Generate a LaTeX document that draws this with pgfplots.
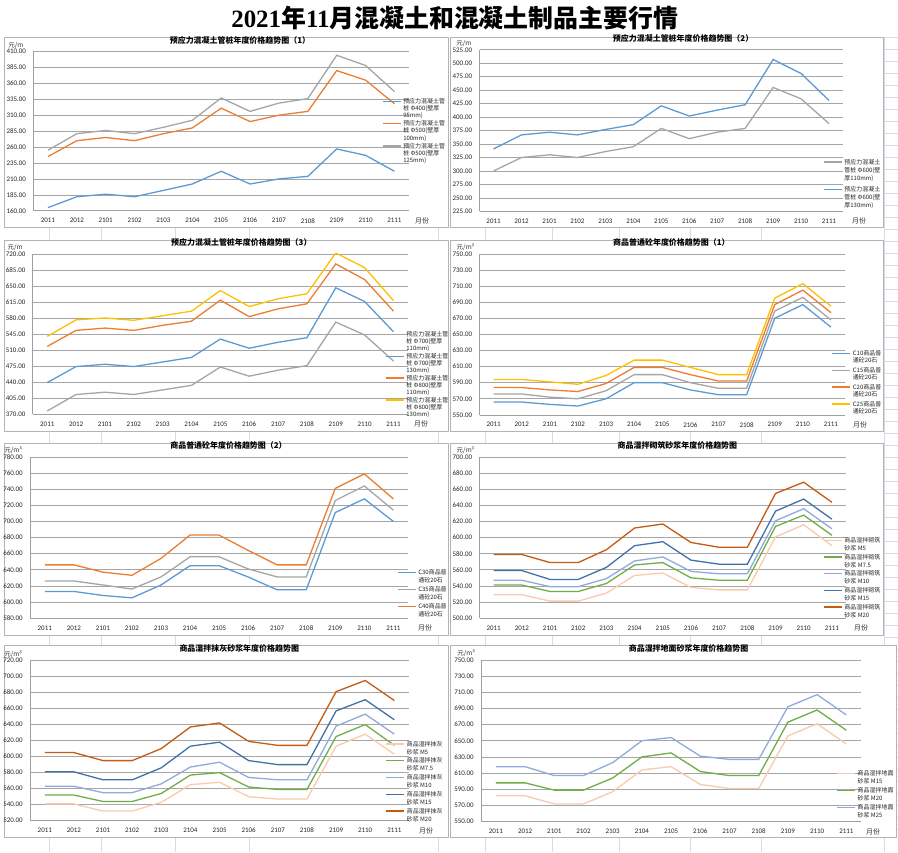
\documentclass[border=0pt]{standalone}
\usepackage{pgfplots}
\pgfplotsset{compat=1.18}
\usepackage{fontspec}
\setmainfont{Carlito}
\newfontfamily\cjk{Noto Sans CJK SC}
\newfontfamily\tnr{Liberation Serif}
\definecolor{cblue}{HTML}{5B9BD5}
\definecolor{corange}{HTML}{ED7D31}
\definecolor{cgray}{HTML}{A5A5A5}
\definecolor{cyellow}{HTML}{FFC000}
\definecolor{cpink}{HTML}{F8CBAD}
\definecolor{cgreen}{HTML}{70AD47}
\definecolor{clav}{HTML}{8FAADC}
\definecolor{cdblue}{HTML}{4271A8}
\definecolor{cbrown}{HTML}{C55A11}
\definecolor{panelgray}{HTML}{B4B4B4}
\definecolor{sheetgrid}{HTML}{D6DCE5}
\newcommand{\lgd}[1]{\begin{tabular}[b]{@{}l@{}}#1\end{tabular}}
\newcommand{\deco}[3]{%
  \node[anchor=south east, inner sep=0pt, xshift=#2, yshift=3pt, font=\cjk\fontsize{6.5}{7}\selectfont, text=black!80] at (rel axis cs:0,1) {#1};
  \node[anchor=base west, inner sep=0pt, xshift=#3, yshift=-12.5pt, font=\cjk\fontsize{7}{8}\selectfont, text=black!80] at (rel axis cs:1,0) {月份};
}
\pgfplotsset{
  panel/.style={
    scale only axis, clip mode=individual,
    xmin=-0.5, xmax=12.5,
    xtick={0,...,12},
    xticklabels={2011,2012,2101,2102,2103,2104,2105,2106,2107,2108,2109,2110,2111},
    axis x line*=bottom, axis y line*=left,
    axis line style={draw=gray!75, line width=0.7pt, -},
    major tick length=0pt,
    ymajorgrids, grid style={draw=gray!70, line width=0.6pt},
    tick label style={font=\fontsize{7}{8}\selectfont, text=black!85},
    xticklabel style={yshift=-4pt},
    yticklabel style={xshift=-4pt, /pgf/number format/.cd, fixed, fixed zerofill, precision=2},
    /pgf/number format/assume math mode=true,
    title style={font=\cjk\bfseries\fontsize{8}{9}\selectfont, anchor=base, inner sep=0pt, yshift=2.5pt},
    legend style={draw=none, fill=none, anchor=north west, inner sep=0pt, column sep=0pt,
      cells={anchor=base west, inner xsep=2pt, inner ysep=0pt}, text=black!85},
    every axis plot/.append style={line width=1.3pt, mark=none},
  },
  lfont/.style={legend style={font=\cjk\fontsize{6}{#1}\selectfont}},
  limg/.style={legend image code/.code={\draw[##1, line width=1.3pt] (0pt,#1) -- (18pt,#1);}},
}
\begin{document}
\begin{tikzpicture}
\fill[white] (0pt,0pt) rectangle (898pt,856pt);
% spreadsheet background grid
\begin{scope}[draw=sheetgrid, line width=0.5pt]
  \foreach \xx in {45.7,98.3,172,246.7,436.7,483.3,551,618.7,689.7,761.3,884.5}
    \draw (\xx pt,0pt) -- (\xx pt,818pt);
  \foreach \k in {0,...,66}{
    \pgfmathsetmacro\yy{818.7-12.05*\k}
    \draw (884pt,\yy pt) -- (898pt,\yy pt);}
\end{scope}
% panels
\begin{scope}[draw=panelgray, fill=white, line width=0.8pt]
  \filldraw (0.5pt,627.7pt) rectangle (446.7pt,818.5pt);
  \filldraw (448.3pt,627.7pt) rectangle (884pt,818.5pt);
  \filldraw (0.5pt,423pt) rectangle (446.7pt,614.3pt);
  \filldraw (448.3pt,423pt) rectangle (884pt,614.3pt);
  \filldraw (0.5pt,218.3pt) rectangle (446.7pt,411pt);
  \filldraw (448.3pt,218.3pt) rectangle (884pt,411pt);
  \filldraw (0.5pt,15pt) rectangle (446.7pt,208pt);
  \filldraw (448.3pt,15pt) rectangle (896.5pt,208pt);
\end{scope}
\node[font=\cjk\bfseries\fontsize{25}{28}\selectfont, inner sep=0pt] at (453pt,838pt) {{\tnr\bfseries 2021}年{\tnr\bfseries 11}月混凝土和混凝土制品主要行情};

% ---------- Panel 1 ----------
\begin{axis}[panel, at={(30pt,644.3pt)}, anchor=south west, width=377pt, height=160pt,
  ymin=160, ymax=410, ytick={160,185,...,410},
  title={预应力混凝土管桩年度价格趋势图（1）}, title style={at={(0.55,1)}},
  lfont=7.2, limg=16.6pt, legend style={at={(0.928,0.72)}, row sep=-2.5pt}]
\addplot[cblue] coordinates {(0,165)(1,182)(2,186)(3,182)(4,192)(5,202)(6,222)(7,202)(8,210)(9,214)(10,257)(11,247)(12,222)};
\addlegendentry{\lgd{预应力混凝土管\\桩 Φ400(壁厚\\95mm)}}
\addplot[corange] coordinates {(0,245)(1,270)(2,275)(3,270)(4,281)(5,290)(6,321)(7,300)(8,310)(9,316)(10,380)(11,365)(12,328)};
\addlegendentry{\lgd{预应力混凝土管\\桩 Φ500(壁厚\\100mm)}}
\addplot[cgray] coordinates {(0,255)(1,281)(2,286)(3,281)(4,291)(5,302)(6,337)(7,316)(8,329)(9,336)(10,404)(11,388)(12,347)};
\addlegendentry{\lgd{预应力混凝土管\\桩 Φ500(壁厚\\125mm)}}
\deco{元/m}{-10pt}{6pt}
\end{axis}

% ---------- Panel 2 ----------
\begin{axis}[panel, at={(478pt,643.7pt)}, anchor=south west, width=365pt, height=162.3pt,
  ymin=225, ymax=525, ytick={225,250,...,525},
  title={预应力混凝土管桩年度价格趋势图（2）}, title style={at={(0.56,1)}},
  lfont=8.1, limg=18.4pt, legend style={at={(0.945,0.341)}, row sep=0pt}]
\addplot[cgray] coordinates {(0,300)(1,325)(2,330)(3,325)(4,336)(5,345)(6,379)(7,360)(8,372)(9,379)(10,455)(11,434)(12,388)};
\addlegendentry{\lgd{预应力混凝土\\管桩 Φ600(壁\\厚110mm)}}
\addplot[cblue] coordinates {(0,341)(1,367)(2,372)(3,367)(4,377)(5,386)(6,421)(7,402)(8,413)(9,423)(10,507)(11,481)(12,431)};
\addlegendentry{\lgd{预应力混凝土\\管桩 Φ600(壁\\厚130mm)}}
\deco{元/m}{-8pt}{9pt}
\end{axis}

% ---------- Panel 3 ----------
\begin{axis}[panel, at={(29.3pt,440pt)}, anchor=south west, width=376.7pt, height=161pt,
  ymin=370, ymax=720, ytick={370,405,...,720},
  title={预应力混凝土管桩年度价格趋势图（3）}, title style={at={(0.556,1)}},
  lfont=7.1, limg=16.4pt, legend style={at={(0.939,0.529)}, row sep=-3pt}]
\addplot[cgray] coordinates {(0,377)(1,413)(2,418)(3,413)(4,423)(5,433)(6,473)(7,453)(8,466)(9,476)(10,571)(11,543)(12,486)};
\addlegendentry{\lgd{预应力混凝土管\\桩 Φ700(壁厚\\110mm)}}
\addplot[cblue] coordinates {(0,439)(1,474)(2,479)(3,474)(4,484)(5,494)(6,534)(7,514)(8,527)(9,537)(10,646)(11,616)(12,550)};
\addlegendentry{\lgd{预应力混凝土管\\桩 Φ700(壁厚\\130mm)}}
\addplot[corange] coordinates {(0,518)(1,553)(2,558)(3,553)(4,564)(5,573)(6,619)(7,583)(8,600)(9,611)(10,698)(11,664)(12,595)};
\addlegendentry{\lgd{预应力混凝土管\\桩 Φ800(壁厚\\110mm)}}
\addplot[cyellow] coordinates {(0,540)(1,576)(2,580)(3,575)(4,585)(5,595)(6,640)(7,605)(8,622)(9,633)(10,722)(11,690)(12,618)};
\addlegendentry{\lgd{预应力混凝土管\\桩 Φ800(壁厚\\130mm)}}
\deco{元/m}{-10pt}{6pt}
\end{axis}

% ---------- Panel 4 ----------
\begin{axis}[panel, at={(478pt,439.3pt)}, anchor=south west, width=367pt, height=161.7pt,
  ymin=550, ymax=750, ytick={550,570,...,750},
  title={商品普通砼年度价格趋势图（1）}, title style={at={(0.525,1)}},
  lfont=7.5, limg=9.7pt, legend style={at={(0.963,0.415)}, row sep=-1.3pt}]
\addplot[cblue] coordinates {(0,566)(1,566)(2,563)(3,561)(4,570)(5,590)(6,590)(7,581)(8,575)(9,575)(10,670)(11,687)(12,659)};
\addlegendentry{\lgd{C10商品普\\通砼20石}}
\addplot[cgray] coordinates {(0,576)(1,576)(2,572)(3,570)(4,580)(5,600)(6,600)(7,590)(8,583)(9,583)(10,679)(11,696)(12,668)};
\addlegendentry{\lgd{C15商品普\\通砼20石}}
\addplot[corange] coordinates {(0,584)(1,584)(2,581)(3,579)(4,589)(5,609)(6,609)(7,600)(8,592)(9,592)(10,687)(11,705)(12,677)};
\addlegendentry{\lgd{C20商品普\\通砼20石}}
\addplot[cyellow] coordinates {(0,594)(1,594)(2,591)(3,588)(4,599)(5,618)(6,618)(7,609)(8,600)(9,600)(10,695)(11,713)(12,685)};
\addlegendentry{\lgd{C25商品普\\通砼20石}}
\deco{元/m³}{-5pt}{8pt}
\end{axis}

% ---------- Panel 5 ----------
\begin{axis}[panel, at={(26.7pt,235.3pt)}, anchor=south west, width=379.3pt, height=161.7pt,
  ymin=580, ymax=780, ytick={580,600,...,780},
  title={商品普通砼年度价格趋势图（2）}, title style={at={(0.525,1)}},
  lfont=7.5, limg=9.7pt, legend style={at={(0.971,0.316)}, row sep=-1pt}]
\addplot[cblue] coordinates {(0,613)(1,613)(2,608)(3,605)(4,621)(5,645)(6,645)(7,631)(8,615)(9,615)(10,711)(11,728)(12,700)};
\addlegendentry{\lgd{C30商品普\\通砼20石}}
\addplot[cgray] coordinates {(0,626)(1,626)(2,621)(3,616)(4,631)(5,656)(6,656)(7,641)(8,631)(9,631)(10,726)(11,744)(12,714)};
\addlegendentry{\lgd{C35商品普\\通砼20石}}
\addplot[corange] coordinates {(0,646)(1,646)(2,637)(3,633)(4,654)(5,683)(6,683)(7,664)(8,646)(9,646)(10,741)(11,759)(12,728)};
\addlegendentry{\lgd{C40商品普\\通砼20石}}
\deco{元/m³}{-8pt}{10pt}
\end{axis}

% ---------- Panel 6 ----------
\begin{axis}[panel, at={(478pt,235.3pt)}, anchor=south west, width=368pt, height=161.4pt,
  ymin=500, ymax=700, ytick={500,520,...,700},
  title={商品湿拌砌筑砂浆年度价格趋势图}, title style={at={(0.54,1)}},
  lfont=8, limg=10.2pt, legend style={at={(0.9375,0.519)}, row sep=-2.3pt}]
\addplot[cpink] coordinates {(0,529)(1,529)(2,521)(3,521)(4,531)(5,553)(6,556)(7,538)(8,535)(9,535)(10,601)(11,616)(12,590)};
\addlegendentry{\lgd{商品湿拌砌筑\\砂浆 M5}}
\addplot[cgreen] coordinates {(0,541)(1,541)(2,533)(3,533)(4,543)(5,566)(6,569)(7,550)(8,547)(9,547)(10,614)(11,628)(12,603)};
\addlegendentry{\lgd{商品湿拌砌筑\\砂浆 M7.5}}
\addplot[clav] coordinates {(0,547)(1,547)(2,539)(3,539)(4,549)(5,571)(6,576)(7,558)(8,555)(9,555)(10,621)(11,636)(12,611)};
\addlegendentry{\lgd{商品湿拌砌筑\\砂浆 M10}}
\addplot[cdblue] coordinates {(0,559)(1,559)(2,548)(3,548)(4,563)(5,590)(6,595)(7,572)(8,567)(9,567)(10,633)(11,648)(12,623)};
\addlegendentry{\lgd{商品湿拌砌筑\\砂浆 M15}}
\addplot[cbrown] coordinates {(0,579)(1,579)(2,569)(3,569)(4,585)(5,612)(6,617)(7,594)(8,588)(9,588)(10,655)(11,669)(12,644)};
\addlegendentry{\lgd{商品湿拌砌筑\\砂浆 M20}}
\deco{元/m³}{-5pt}{8pt}
\end{axis}

% ---------- Panel 7 ----------
\begin{axis}[panel, at={(26.7pt,31.7pt)}, anchor=south west, width=380.3pt, height=161pt,
  ymin=520, ymax=720, ytick={520,540,...,720},
  title={商品湿拌抹灰砂浆年度价格趋势图}, title style={at={(0.552,1)}},
  lfont=8, limg=10.2pt, legend style={at={(0.938,0.513)}, row sep=-2.3pt}]
\addplot[cpink] coordinates {(0,541)(1,541)(2,532)(3,532)(4,543)(5,565)(6,568)(7,550)(8,547)(9,547)(10,613)(11,628)(12,603)};
\addlegendentry{\lgd{商品湿拌抹灰\\砂浆 M5}}
\addplot[cgreen] coordinates {(0,552)(1,552)(2,544)(3,544)(4,554)(5,577)(6,580)(7,562)(8,559)(9,559)(10,625)(11,640)(12,614)};
\addlegendentry{\lgd{商品湿拌抹灰\\砂浆 M7.5}}
\addplot[clav] coordinates {(0,563)(1,563)(2,555)(3,555)(4,566)(5,587)(6,593)(7,574)(8,571)(9,571)(10,638)(11,653)(12,628)};
\addlegendentry{\lgd{商品湿拌抹灰\\砂浆 M10}}
\addplot[cdblue] coordinates {(0,581)(1,581)(2,571)(3,571)(4,586)(5,613)(6,618)(7,595)(8,590)(9,590)(10,657)(11,671)(12,646)};
\addlegendentry{\lgd{商品湿拌抹灰\\砂浆 M15}}
\addplot[cbrown] coordinates {(0,605)(1,605)(2,595)(3,595)(4,610)(5,637)(6,642)(7,619)(8,614)(9,614)(10,681)(11,695)(12,670)};
\addlegendentry{\lgd{商品湿拌抹灰\\砂浆 M20}}
\deco{元/m³}{-8pt}{10pt}
\end{axis}

% ---------- Panel 8 ----------
\begin{axis}[panel, at={(479.7pt,30.7pt)}, anchor=south west, width=381.3pt, height=162.6pt,
  ymin=550, ymax=750, ytick={550,570,...,750},
  title={商品湿拌地面砂浆年度价格趋势图}, title style={at={(0.546,1)}},
  lfont=8, limg=10.2pt, legend style={at={(0.935,0.334)}, row sep=-2pt}]
\addplot[cpink] coordinates {(0,582)(1,582)(2,572)(3,572)(4,587)(5,614)(6,618)(7,596)(8,591)(9,591)(10,656)(11,671)(12,646)};
\addlegendentry{\lgd{商品湿拌地面\\砂浆 M15}}
\addplot[cgreen] coordinates {(0,598)(1,598)(2,589)(3,589)(4,604)(5,630)(6,635)(7,612)(8,607)(9,607)(10,673)(11,688)(12,663)};
\addlegendentry{\lgd{商品湿拌地面\\砂浆 M20}}
\addplot[clav] coordinates {(0,618)(1,618)(2,607)(3,607)(4,623)(5,650)(6,654)(7,631)(8,627)(9,627)(10,692)(11,707)(12,682)};
\addlegendentry{\lgd{商品湿拌地面\\砂浆 M25}}
\deco{元/m³}{-6pt}{5pt}
\end{axis}
\end{tikzpicture}
\end{document}
